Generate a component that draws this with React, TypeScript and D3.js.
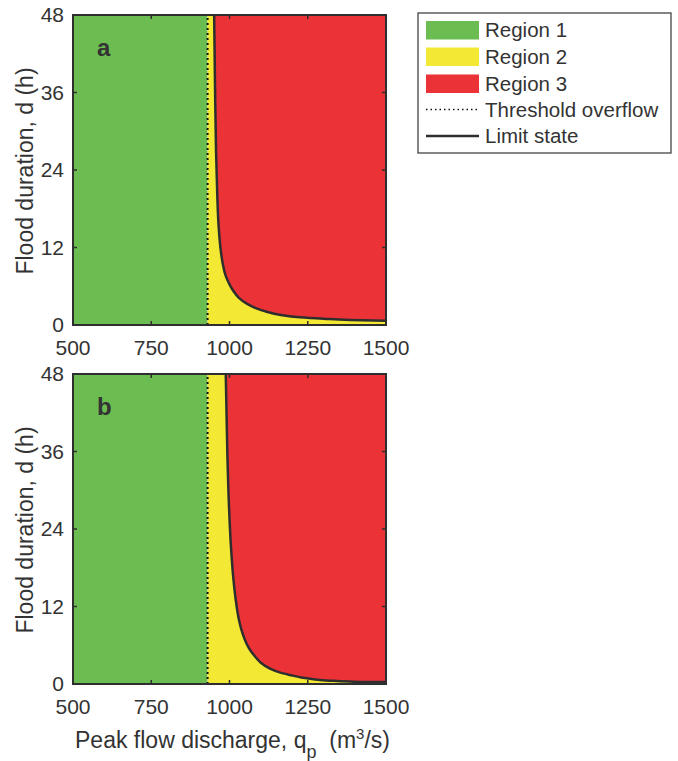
import React from "react";
import * as d3 from "d3";

const xTicks = [500, 750, 1000, 1250, 1500];
const yTicks = [0, 12, 24, 36, 48];
const thresholdQ = 930;

const limitA: [number, number][] = [
  [951, 48], [954, 36], [957, 27], [961, 20], [965, 15.5], [971, 12], [978, 9.6],
  [988, 7.6], [1000, 6.3], [1012, 5.3], [1030, 4.2], [1055, 3.3], [1080, 2.7],
  [1119, 2.05], [1160, 1.6], [1225, 1.2], [1300, 0.98], [1385, 0.78], [1500, 0.66],
];

const limitB: [number, number][] = [
  [988, 48], [993, 36], [998, 28], [1005, 21], [1012, 16.5], [1020, 13], [1030, 10],
  [1042, 7.8], [1055, 6.2], [1068, 5.1], [1081, 4.3], [1100, 3.3], [1129, 2.4],
  [1160, 1.8], [1193, 1.4], [1230, 1.0], [1268, 0.73], [1320, 0.52], [1385, 0.38],
  [1450, 0.32], [1500, 0.3],
];

const panelLabels = ["a", "b"];
const legendItems = ["Region 1", "Region 2", "Region 3", "Threshold overflow", "Limit state"];

const GREEN = "#6cbd51";
const YELLOW = "#f3e935";
const RED = "#eb3337";
const DARK = "#2e2e2e";
const FONT = "'Liberation Sans', Arial, sans-serif";

function Panel({ top, data, label, showXTitle }: { top: number; data: [number, number][]; label: string; showXTitle: boolean }) {
  const left = 73, right = 386, bottom = top + 310;
  const x = d3.scaleLinear().domain([500, 1500]).range([left, right]);
  const y = d3.scaleLinear().domain([0, 48]).range([bottom, top]);
  const line = d3.line<[number, number]>().x((d) => x(d[0])).y((d) => y(d[1])).curve(d3.curveMonotoneY);
  const redPath = line(data) + "L" + x(1500) + "," + y(48) + "Z";
  const tickLen = 4;
  return (
    <g>
      <rect x={x(500)} y={y(48)} width={x(thresholdQ) - x(500)} height={y(0) - y(48)} fill={GREEN} />
      <rect x={x(thresholdQ)} y={y(48)} width={x(1500) - x(thresholdQ)} height={y(0) - y(48)} fill={YELLOW} />
      <path d={redPath} fill={RED} />
      <line x1={x(thresholdQ)} x2={x(thresholdQ)} y1={y(0)} y2={y(48)} stroke="#111" strokeWidth={2} strokeDasharray="2,3" />
      <path d={line(data) || ""} fill="none" stroke={DARK} strokeWidth={2.5} />
      {xTicks.map((t) => (
        <g key={"x" + t}>
          <line x1={x(t)} x2={x(t)} y1={bottom} y2={bottom - tickLen} stroke={DARK} strokeWidth={1.5} />
          <line x1={x(t)} x2={x(t)} y1={top} y2={top + tickLen} stroke={DARK} strokeWidth={1.5} />
          <text x={x(t)} y={bottom + 30} textAnchor="middle" fontSize={21} fill="#333" fontFamily={FONT}>{t}</text>
        </g>
      ))}
      {yTicks.map((t) => (
        <g key={"y" + t}>
          <line x1={left} x2={left + tickLen} y1={y(t)} y2={y(t)} stroke={DARK} strokeWidth={1.5} />
          <line x1={right} x2={right - tickLen} y1={y(t)} y2={y(t)} stroke={DARK} strokeWidth={1.5} />
          <text x={left - 9} y={y(t)} dy="0.35em" textAnchor="end" fontSize={21} fill="#333" fontFamily={FONT}>{t}</text>
        </g>
      ))}
      <rect x={left} y={top} width={right - left} height={bottom - top} fill="none" stroke={DARK} strokeWidth={2} />
      <text x={97} y={top + 41} fontSize={24} fontWeight="bold" fill="#333" fontFamily={FONT}>{label}</text>
      <text
        transform={`translate(33,${(top + bottom) / 2 + 1}) rotate(-90)`}
        textAnchor="middle"
        fontSize={23}
        fill="#333"
        fontFamily={FONT}
      >
        Flood duration, d  (h)
      </text>
      {showXTitle && (
        <text x={(left + right) / 2 + 3} y={bottom + 64} textAnchor="middle" fontSize={23} fill="#333" fontFamily={FONT} xmlSpace="preserve">
          <tspan>Peak flow discharge, q</tspan>
          <tspan dy={10} fontSize={18}>p</tspan>
          <tspan dy={-10}>{"  (m"}</tspan>
          <tspan dy={-9} fontSize={15}>3</tspan>
          <tspan dy={9}>/s)</tspan>
        </text>
      )}
    </g>
  );
}

export default function App() {
  const lx = 418, ly = 13, lw = 253, lh = 140;
  const rowY = [30, 56.5, 83.5, 109.5, 136];
  const fills = [GREEN, YELLOW, RED];
  return (
    <svg width={678} height={761} style={{ position: "absolute", left: 0, top: 0, background: "#fff" }}>
      <rect width={678} height={761} fill="#fff" />
      <Panel top={15} data={limitA} label={panelLabels[0]} showXTitle={false} />
      <Panel top={374} data={limitB} label={panelLabels[1]} showXTitle={true} />
      <g>
        <rect x={lx} y={ly} width={lw} height={lh} fill="#fff" stroke="#444" strokeWidth={1.3} />
        {legendItems.map((name, i) => (
          <g key={name}>
            {i < 3 && <rect x={426} y={rowY[i] - 9} width={53} height={18.5} fill={fills[i]} />}
            {i === 3 && (
              <line x1={426} x2={479} y1={rowY[i]} y2={rowY[i]} stroke="#111" strokeWidth={1.5} strokeDasharray="1.5,3" />
            )}
            {i === 4 && <line x1={426} x2={479} y1={rowY[i]} y2={rowY[i]} stroke={DARK} strokeWidth={2.5} />}
            <text x={485} y={rowY[i]} dy="0.35em" fontSize={20.5} fill="#333" fontFamily={FONT}>{name}</text>
          </g>
        ))}
      </g>
    </svg>
  );
}
